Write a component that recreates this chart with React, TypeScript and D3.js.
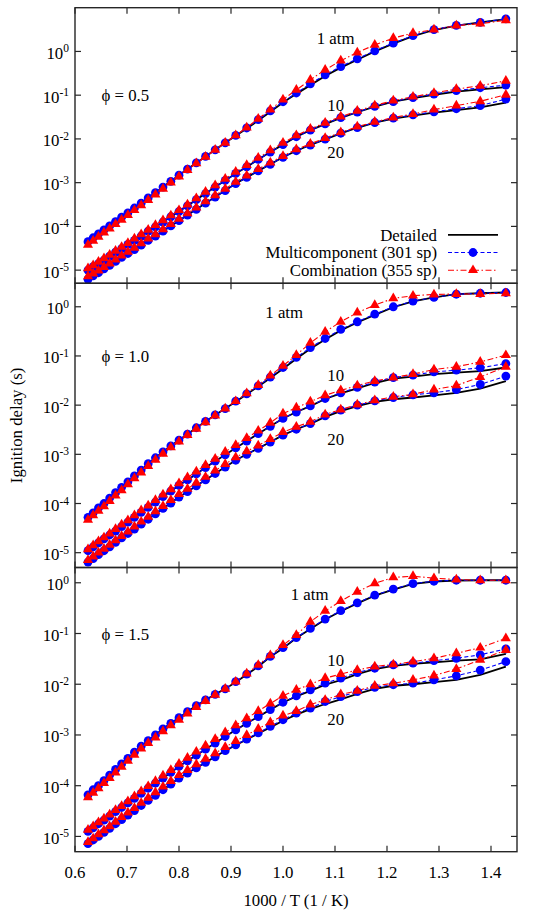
import React from 'react';
import * as d3 from 'd3';

// Temperatures (K) of the computed points; x = 1000 / T
const temperatures = [1600, 1575, 1550, 1525, 1500, 1475, 1450, 1425, 1400, 1375, 1350, 1325, 1300, 1275, 1250, 1225, 1200, 1175, 1150, 1125, 1100, 1075, 1050, 1025, 1000, 975, 950, 925, 900, 875, 850, 825, 800, 775, 750, 725, 700];
const xTickValues = [0.6, 0.7, 0.8, 0.9, 1.0, 1.1, 1.2, 1.3, 1.4];
const yTickExponents = [0, -1, -2, -3, -4, -5];
const phiLabels = ['\u03d5 = 0.5', '\u03d5 = 1.0', '\u03d5 = 1.5'];
const yMaxByPanel = [10, 3, 2];
const yMin = 5e-6;
const pressureLabels = ['1 atm', '10', '20'];
const modelNames = ['Detailed', 'Multicomponent (301 sp)', 'Combination (355 sp)'];

// log10 of ignition delay (s), phi = 0.5
const phi05_1atm_detailed = [-4.34, -4.25, -4.16, -4.07, -3.98, -3.88, -3.78, -3.68, -3.58, -3.47, -3.35, -3.23, -3.10, -2.97, -2.83, -2.69, -2.55, -2.40, -2.25, -2.09, -1.93, -1.76, -1.58, -1.38, -1.17, -0.97, -0.77, -0.56, -0.37, -0.19, 0.0, 0.18, 0.35, 0.49, 0.59, 0.665, 0.74];
const phi05_1atm_multi = [-4.35, -4.26, -4.17, -4.08, -3.99, -3.89, -3.79, -3.69, -3.58, -3.47, -3.35, -3.23, -3.10, -2.97, -2.83, -2.69, -2.55, -2.40, -2.25, -2.09, -1.92, -1.75, -1.56, -1.36, -1.15, -0.95, -0.74, -0.535, -0.345, -0.17, 0.015, 0.19, 0.36, 0.50, 0.595, 0.665, 0.745];
const phi05_1atm_combo = [-4.42, -4.33, -4.24, -4.14, -4.05, -3.95, -3.85, -3.74, -3.63, -3.52, -3.40, -3.27, -3.14, -3.00, -2.86, -2.71, -2.56, -2.41, -2.25, -2.09, -1.92, -1.74, -1.54, -1.33, -1.10, -0.88, -0.65, -0.42, -0.21, -0.025, 0.15, 0.305, 0.42, 0.50, 0.59, 0.635, 0.71];
const phi05_10atm_detailed = [-5.00, -4.92, -4.85, -4.77, -4.68, -4.59, -4.51, -4.41, -4.32, -4.22, -4.11, -4.01, -3.90, -3.78, -3.66, -3.53, -3.39, -3.25, -3.10, -2.95, -2.79, -2.64, -2.47, -2.30, -2.13, -1.95, -1.80, -1.66, -1.52, -1.39, -1.26, -1.15, -1.065, -0.99, -0.92, -0.865, -0.815];
const phi05_10atm_multi = [-5.00, -4.92, -4.85, -4.77, -4.68, -4.59, -4.51, -4.41, -4.32, -4.22, -4.11, -4.01, -3.90, -3.78, -3.66, -3.53, -3.39, -3.25, -3.10, -2.95, -2.79, -2.64, -2.47, -2.30, -2.13, -1.95, -1.80, -1.655, -1.515, -1.385, -1.255, -1.145, -1.055, -0.975, -0.895, -0.83, -0.77];
const phi05_10atm_combo = [-4.96, -4.89, -4.81, -4.73, -4.65, -4.56, -4.47, -4.38, -4.28, -4.18, -4.08, -3.97, -3.86, -3.75, -3.63, -3.50, -3.36, -3.21, -3.06, -2.91, -2.75, -2.60, -2.43, -2.26, -2.09, -1.92, -1.77, -1.63, -1.49, -1.36, -1.235, -1.125, -1.035, -0.95, -0.86, -0.785, -0.67];
const phi05_20atm_detailed = [-5.21, -5.13, -5.06, -4.97, -4.89, -4.80, -4.71, -4.62, -4.53, -4.43, -4.32, -4.22, -4.11, -3.99, -3.87, -3.74, -3.61, -3.47, -3.33, -3.18, -3.02, -2.88, -2.73, -2.58, -2.42, -2.27, -2.14, -2.01, -1.875, -1.745, -1.63, -1.535, -1.465, -1.40, -1.34, -1.28, -1.17];
const phi05_20atm_multi = [-5.21, -5.13, -5.06, -4.97, -4.89, -4.80, -4.71, -4.62, -4.53, -4.43, -4.32, -4.22, -4.11, -3.99, -3.87, -3.74, -3.61, -3.47, -3.33, -3.18, -3.02, -2.88, -2.73, -2.58, -2.42, -2.27, -2.14, -2.005, -1.87, -1.74, -1.625, -1.525, -1.45, -1.38, -1.31, -1.24, -1.09];
const phi05_20atm_combo = [-5.14, -5.08, -5.01, -4.93, -4.85, -4.76, -4.67, -4.58, -4.49, -4.39, -4.28, -4.18, -4.07, -3.95, -3.83, -3.70, -3.57, -3.43, -3.29, -3.14, -2.98, -2.84, -2.69, -2.54, -2.39, -2.24, -2.11, -1.98, -1.85, -1.72, -1.61, -1.51, -1.43, -1.33, -1.24, -1.14, -0.99];

// phi = 1.0
const phi10_1atm_detailed = [-4.27, -4.18, -4.09, -3.99, -3.89, -3.78, -3.67, -3.56, -3.44, -3.32, -3.19, -3.07, -2.95, -2.83, -2.71, -2.59, -2.46, -2.33, -2.20, -2.07, -1.93, -1.78, -1.62, -1.45, -1.26, -1.055, -0.855, -0.665, -0.48, -0.32, -0.165, -0.01, 0.11, 0.19, 0.255, 0.275, 0.29];
const phi10_1atm_multi = [-4.28, -4.19, -4.09, -4.00, -3.89, -3.78, -3.67, -3.56, -3.44, -3.32, -3.19, -3.07, -2.95, -2.83, -2.71, -2.59, -2.46, -2.33, -2.20, -2.07, -1.92, -1.77, -1.61, -1.43, -1.235, -1.03, -0.83, -0.645, -0.46, -0.305, -0.15, 0.0, 0.115, 0.19, 0.255, 0.275, 0.29];
const phi10_1atm_combo = [-4.33, -4.24, -4.15, -4.06, -3.95, -3.84, -3.73, -3.61, -3.49, -3.37, -3.24, -3.11, -2.99, -2.86, -2.74, -2.61, -2.48, -2.35, -2.21, -2.07, -1.92, -1.76, -1.59, -1.40, -1.20, -0.98, -0.735, -0.51, -0.305, -0.12, 0.035, 0.17, 0.225, 0.25, 0.26, 0.26, 0.275];
const phi10_10atm_detailed = [-4.96, -4.88, -4.80, -4.72, -4.64, -4.56, -4.47, -4.38, -4.28, -4.18, -4.08, -3.97, -3.86, -3.75, -3.63, -3.52, -3.40, -3.27, -3.14, -3.01, -2.87, -2.73, -2.58, -2.43, -2.27, -2.14, -2.02, -1.875, -1.76, -1.66, -1.55, -1.46, -1.42, -1.37, -1.34, -1.31, -1.235];
const phi10_10atm_multi = [-4.96, -4.88, -4.80, -4.72, -4.64, -4.56, -4.47, -4.38, -4.28, -4.18, -4.08, -3.97, -3.86, -3.75, -3.63, -3.52, -3.40, -3.27, -3.14, -3.01, -2.87, -2.73, -2.58, -2.43, -2.27, -2.14, -2.015, -1.865, -1.75, -1.64, -1.53, -1.44, -1.39, -1.325, -1.29, -1.24, -1.155];
const phi10_10atm_combo = [-4.93, -4.85, -4.77, -4.69, -4.61, -4.52, -4.43, -4.34, -4.24, -4.14, -4.04, -3.93, -3.82, -3.71, -3.59, -3.47, -3.35, -3.22, -3.09, -2.95, -2.81, -2.67, -2.52, -2.36, -2.17, -2.05, -1.93, -1.80, -1.70, -1.60, -1.51, -1.44, -1.37, -1.275, -1.22, -1.12, -0.985];
const phi10_20atm_detailed = [-5.19, -5.12, -5.04, -4.96, -4.88, -4.79, -4.70, -4.61, -4.52, -4.42, -4.32, -4.21, -4.10, -3.99, -3.87, -3.76, -3.64, -3.52, -3.39, -3.26, -3.12, -3.00, -2.88, -2.75, -2.61, -2.49, -2.38, -2.24, -2.12, -2.02, -1.935, -1.88, -1.845, -1.80, -1.75, -1.665, -1.51];
const phi10_20atm_multi = [-5.19, -5.12, -5.04, -4.96, -4.88, -4.79, -4.70, -4.61, -4.52, -4.42, -4.32, -4.21, -4.10, -3.99, -3.87, -3.76, -3.64, -3.52, -3.39, -3.26, -3.12, -3.00, -2.88, -2.75, -2.61, -2.49, -2.375, -2.22, -2.10, -2.00, -1.915, -1.845, -1.79, -1.75, -1.685, -1.58, -1.41];
const phi10_20atm_combo = [-5.15, -5.08, -5.00, -4.92, -4.84, -4.75, -4.66, -4.57, -4.47, -4.37, -4.27, -4.16, -4.05, -3.93, -3.81, -3.70, -3.58, -3.46, -3.33, -3.20, -3.06, -2.94, -2.82, -2.69, -2.55, -2.44, -2.34, -2.19, -2.09, -1.99, -1.90, -1.83, -1.78, -1.685, -1.60, -1.43, -1.22];

// phi = 1.5
const phi15_1atm_detailed = [-4.17, -4.08, -3.99, -3.89, -3.79, -3.68, -3.57, -3.46, -3.34, -3.22, -3.11, -3.00, -2.88, -2.77, -2.66, -2.54, -2.42, -2.31, -2.20, -2.09, -1.96, -1.81, -1.65, -1.46, -1.29, -1.09, -0.91, -0.725, -0.56, -0.405, -0.255, -0.135, -0.02, 0.025, 0.045, 0.05, 0.05];
const phi15_1atm_multi = [-4.18, -4.08, -4.00, -3.90, -3.79, -3.68, -3.57, -3.46, -3.34, -3.22, -3.11, -3.00, -2.88, -2.77, -2.66, -2.54, -2.42, -2.31, -2.20, -2.09, -1.95, -1.80, -1.64, -1.45, -1.28, -1.08, -0.90, -0.715, -0.55, -0.395, -0.245, -0.125, -0.015, 0.03, 0.05, 0.05, 0.05];
const phi15_1atm_combo = [-4.23, -4.14, -4.05, -3.95, -3.85, -3.74, -3.63, -3.51, -3.39, -3.27, -3.16, -3.05, -2.93, -2.81, -2.70, -2.58, -2.45, -2.33, -2.21, -2.09, -1.95, -1.79, -1.62, -1.43, -1.23, -1.03, -0.77, -0.555, -0.36, -0.18, -0.01, 0.105, 0.13, 0.09, 0.065, 0.05, 0.05];
const phi15_10atm_detailed = [-4.90, -4.83, -4.75, -4.68, -4.60, -4.51, -4.43, -4.34, -4.25, -4.15, -4.05, -3.95, -3.85, -3.74, -3.62, -3.51, -3.40, -3.28, -3.16, -3.03, -2.90, -2.77, -2.64, -2.50, -2.36, -2.24, -2.13, -2.01, -1.92, -1.80, -1.70, -1.64, -1.60, -1.57, -1.535, -1.51, -1.40];
const phi15_10atm_multi = [-4.90, -4.83, -4.75, -4.68, -4.60, -4.51, -4.43, -4.34, -4.25, -4.15, -4.05, -3.95, -3.85, -3.74, -3.62, -3.51, -3.40, -3.28, -3.16, -3.03, -2.90, -2.77, -2.64, -2.50, -2.355, -2.23, -2.11, -1.98, -1.88, -1.77, -1.685, -1.62, -1.585, -1.535, -1.49, -1.42, -1.305];
const phi15_10atm_combo = [-4.87, -4.80, -4.72, -4.65, -4.57, -4.48, -4.40, -4.31, -4.21, -4.11, -4.01, -3.91, -3.80, -3.69, -3.57, -3.45, -3.33, -3.21, -3.08, -2.95, -2.81, -2.67, -2.53, -2.38, -2.23, -2.11, -2.00, -1.88, -1.80, -1.72, -1.65, -1.61, -1.555, -1.49, -1.39, -1.28, -1.095];
const phi15_20atm_detailed = [-5.14, -5.07, -5.00, -4.92, -4.84, -4.75, -4.67, -4.58, -4.49, -4.39, -4.29, -4.19, -4.08, -3.97, -3.85, -3.75, -3.65, -3.54, -3.43, -3.31, -3.20, -3.09, -2.97, -2.85, -2.72, -2.60, -2.49, -2.39, -2.30, -2.19, -2.09, -2.03, -2.00, -1.96, -1.915, -1.815, -1.655];
const phi15_20atm_multi = [-5.14, -5.07, -5.00, -4.92, -4.84, -4.75, -4.67, -4.58, -4.49, -4.39, -4.29, -4.19, -4.08, -3.97, -3.85, -3.75, -3.65, -3.54, -3.43, -3.31, -3.195, -3.08, -2.96, -2.83, -2.70, -2.57, -2.47, -2.34, -2.245, -2.145, -2.06, -2.01, -1.98, -1.915, -1.835, -1.72, -1.555];
const phi15_20atm_combo = [-5.11, -5.04, -4.96, -4.88, -4.80, -4.71, -4.62, -4.53, -4.44, -4.34, -4.24, -4.13, -4.02, -3.91, -3.79, -3.69, -3.58, -3.47, -3.36, -3.24, -3.12, -3.00, -2.88, -2.75, -2.62, -2.53, -2.40, -2.31, -2.20, -2.13, -2.03, -1.98, -1.915, -1.83, -1.70, -1.52, -1.325];

const panelSeries = [
  [
    [phi05_1atm_detailed, phi05_1atm_multi, phi05_1atm_combo],
    [phi05_10atm_detailed, phi05_10atm_multi, phi05_10atm_combo],
    [phi05_20atm_detailed, phi05_20atm_multi, phi05_20atm_combo],
  ],
  [
    [phi10_1atm_detailed, phi10_1atm_multi, phi10_1atm_combo],
    [phi10_10atm_detailed, phi10_10atm_multi, phi10_10atm_combo],
    [phi10_20atm_detailed, phi10_20atm_multi, phi10_20atm_combo],
  ],
  [
    [phi15_1atm_detailed, phi15_1atm_multi, phi15_1atm_combo],
    [phi15_10atm_detailed, phi15_10atm_multi, phi15_10atm_combo],
    [phi15_20atm_detailed, phi15_20atm_multi, phi15_20atm_combo],
  ],
];

// ---- layout ----
const W = 539;
const H = 916;
const PLOT_L = 75;
const PLOT_R = 517;
const panelTops = [7.7, 283.3, 567.5];
const panelBottoms = [283.3, 567.5, 851.7];
const phiPos = [[101.5, 100.7], [101.5, 362.3], [101.5, 640]];
const pressurePos = [
  [[316.7, 44.3], [327.3, 111], [327.3, 157.7]],
  [[265.3, 318.3], [327.3, 381], [327.3, 445]],
  [[290.7, 600], [327.3, 665.7], [327.3, 725]],
];

const FONT = "'Liberation Serif', 'Times New Roman', Times, serif";
const FS = 16.8;
const BLUE = '#0000ff';
const RED = '#ff0000';
const FRAME = '#262626';
const TICK = 6;

const xScale = d3.scaleLinear().domain([0.6, 1.45]).range([PLOT_L, PLOT_R]);
const triPath = d3.symbol().type(d3.symbolTriangle).size(44)() as string;

const styles = [
  { stroke: '#000', width: 1.8, dash: undefined as string | undefined },
  { stroke: BLUE, width: 1.1, dash: '4,2.5' },
  { stroke: RED, width: 1.1, dash: '6,2.5,1.5,2.5' },
];

function Sup({ x, y, exp }: { x: number; y: number; exp: number }) {
  return (
    <text x={x} y={y} textAnchor="end" fontSize={FS}>
      <tspan>10</tspan>
      <tspan dy={-6.5} fontSize={11.5}>{String(exp)}</tspan>
    </text>
  );
}

function Panel({ idx }: { idx: number }) {
  const top = panelTops[idx];
  const bottom = panelBottoms[idx];
  const y = d3.scaleLog().domain([yMin, yMaxByPanel[idx]]).range([bottom, top]);
  const xs = temperatures.map((t) => 1000 / t);
  const line = d3
    .line<number>()
    .x((_, i) => xScale(xs[i]))
    .y((v) => y(Math.pow(10, v)));

  return (
    <g>
      {panelSeries[idx].map((group, gi) => (
        <g key={gi}>
          {group.map((vals, mi) => (
            <path
              key={'l' + mi}
              d={line(vals) as string}
              fill="none"
              stroke={styles[mi].stroke}
              strokeWidth={styles[mi].width}
              strokeDasharray={styles[mi].dash}
            />
          ))}
          {group[1].map((v, i) => (
            <circle key={'c' + i} cx={xScale(xs[i])} cy={y(Math.pow(10, v))} r={4.4} fill={BLUE} />
          ))}
          {group[2].map((v, i) => (
            <path
              key={'t' + i}
              d={triPath}
              transform={`translate(${xScale(xs[i])},${y(Math.pow(10, v))})`}
              fill={RED}
            />
          ))}
        </g>
      ))}
      <rect x={PLOT_L} y={top} width={PLOT_R - PLOT_L} height={bottom - top} fill="none" stroke={FRAME} strokeWidth={1.4} />
      {xTickValues.map((t) => (
        <g key={'xt' + t}>
          <line x1={xScale(t)} x2={xScale(t)} y1={bottom} y2={bottom - TICK} stroke={FRAME} strokeWidth={1.2} />
          <line x1={xScale(t)} x2={xScale(t)} y1={top} y2={top + TICK} stroke={FRAME} strokeWidth={1.2} />
        </g>
      ))}
      {yTickExponents.map((e) => {
        const yy = y(Math.pow(10, e));
        return (
          <g key={'yt' + e}>
            <line x1={PLOT_L} x2={PLOT_L + TICK} y1={yy} y2={yy} stroke={FRAME} strokeWidth={1.2} />
            <line x1={PLOT_R} x2={PLOT_R - TICK} y1={yy} y2={yy} stroke={FRAME} strokeWidth={1.2} />
            <Sup x={69} y={yy + 7.5} exp={e} />
          </g>
        );
      })}
      <text x={phiPos[idx][0]} y={phiPos[idx][1]} fontSize={FS}>{phiLabels[idx]}</text>
      {pressureLabels.map((p, pi) => (
        <text key={'p' + pi} x={pressurePos[idx][pi][0]} y={pressurePos[idx][pi][1]} fontSize={FS}>
          {p}
        </text>
      ))}
    </g>
  );
}

function Legend() {
  const textX = 437;
  const baselines = [240.7, 258.3, 276];
  const x1 = 448;
  const x2 = 498;
  return (
    <g>
      {modelNames.map((name, i) => {
        const ly = baselines[i] - 5.8;
        return (
          <g key={name}>
            <text x={textX} y={baselines[i]} textAnchor="end" fontSize={FS}>{name}</text>
            <line x1={x1} x2={x2} y1={ly} y2={ly} stroke={styles[i].stroke} strokeWidth={styles[i].width} strokeDasharray={styles[i].dash} />
            {i === 1 && <circle cx={(x1 + x2) / 2} cy={ly} r={4.4} fill={BLUE} />}
            {i === 2 && <path d={triPath} transform={`translate(${(x1 + x2) / 2},${ly})`} fill={RED} />}
          </g>
        );
      })}
    </g>
  );
}

export default function App() {
  const bottom = panelBottoms[2];
  return (
    <svg
      width={W}
      height={H}
      style={{ position: 'absolute', left: 0, top: 0, background: '#fff' }}
      fontFamily={FONT}
    >
      <rect x={0} y={0} width={W} height={H} fill="#fff" />
      {[0, 1, 2].map((i) => (
        <Panel key={i} idx={i} />
      ))}
      <Legend />
      {xTickValues.map((t) => (
        <text key={'xl' + t} x={xScale(t)} y={bottom + 26} textAnchor="middle" fontSize={FS}>
          {t.toFixed(1)}
        </text>
      ))}
      <text x={(PLOT_L + PLOT_R) / 2} y={906} textAnchor="middle" fontSize={FS}>
        1000 / T (1 / K)
      </text>
      <text transform={`translate(22,${(panelTops[1] + panelBottoms[1]) / 2}) rotate(-90)`} textAnchor="middle" fontSize={FS}>
        Ignition delay (s)
      </text>
    </svg>
  );
}
